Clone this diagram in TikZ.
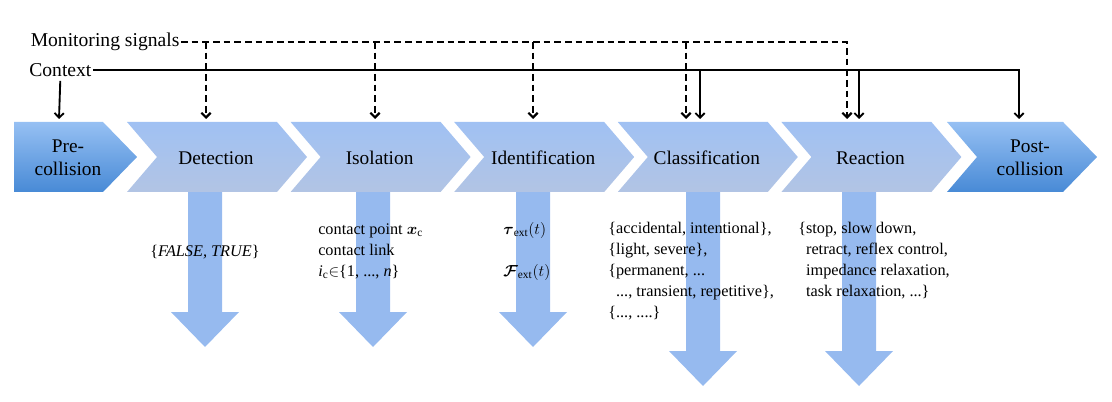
\documentclass[tikz,border=0pt]{standalone}
\usepackage{amsmath}
\usepackage{amssymb}
\usepackage{fontspec}
\setmainfont{Liberation Serif}
\usepackage{tikz}
\usetikzlibrary{arrows.meta}

\definecolor{midtop}{RGB}{160,193,243}
\definecolor{midbot}{RGB}{178,196,228}
\definecolor{endtop}{RGB}{150,192,243}
\definecolor{endbot}{RGB}{72,138,214}
\definecolor{outblue}{RGB}{150,186,239}

\begin{document}
\begin{tikzpicture}[x=0.75pt,y=-0.75pt,>={Straight Barb[length=3.5pt,width=7pt]}]
			\tikzstyle{mid phase}=[top color=midtop, bottom color=midbot]
			\tikzstyle{end phase}=[top color=endtop, bottom color=endbot]
			\tikzstyle{phase label}=[font=\fontsize{14.5}{17.3}\selectfont, align=center, inner sep=0pt]
			\tikzstyle{signal label}=[font=\fontsize{14.7}{17.6}\selectfont, inner sep=1pt]
			\tikzstyle{outcome}=[fill=outblue]
			\tikzstyle{outcome text}=[font=\fontsize{12.2}{15.75}\selectfont, align=left, inner sep=0pt, anchor=north west]
			\tikzstyle{monitor}=[line width=1.6pt, dash pattern=on 5pt off 3pt]
			\tikzstyle{context}=[line width=1.4pt]
			
			\useasboundingbox (0,0) rectangle (1112,402);
			
			% Draw the pre- and post-collision phases
			\path[end phase] (14,122) -- (103,122) -- (137,157) -- (103,192) -- (14,192) -- cycle;
			\node[phase label] (pre) at (68,158) {Pre-\\collision};
			\path[end phase] (947,122) -- (1063,122) -- (1097,157) -- (1063,192) -- (947,192) -- (977,157) -- cycle;
			\node[phase label] (post) at (1030,158) {Post-\\collision};
			
			% Draw the down arrows below the phases
			\foreach \x / \tip in {205/347, 373/347, 533/347, 703/386, 859/386}
			\path[outcome] (\x-17,192) -- (\x+17,192) -- (\x+17,\tip-35) -- (\x+34,\tip-35)
				-- (\x,\tip) -- (\x-34,\tip-35) -- (\x-17,\tip-35) -- cycle;
			
			% Draw the phases of the collision pipeline
			\foreach \name / \x / \lbl in {det/127/Detection, iso/290.6/Isolation, idf/454.2/Identification, cls/617.8/Classification, rea/781.4/Reaction}
			{
				\path[mid phase] (\x,122) -- ++(150,0) -- ++(30,35) -- ++(-30,35) -- ++(-150,0) -- ++(30,-35) -- cycle;
				\node[phase label, anchor=base] (\name) at (\x+89,165) {\lbl};
			}
			
			% Signals on top
			\node[signal label, anchor=east] (mon) at (181,42) {Monitoring signals};
			\node[signal label, anchor=east] (ctx) at (93,70) {Context};
			
			% Arrow targets on top of the phases
			\coordinate (pre-ctx) at (59,119);
			\foreach \name / \x in {det/206, iso/375, idf/533, cls/686, rea/847}
			\coordinate (\name-mon) at (\x,119);
			\foreach \name / \x in {cls/700, rea/859, post/1019}
			\coordinate (\name-ctx) at (\x,119);
			
			% Monitoring signals to the phases
			\draw[monitor,->] (mon.east) -- (mon.east -| rea-mon) -- (rea-mon);
			\foreach \name in {det,iso,idf,cls}
			\draw[monitor,->] (mon.east -| \name-mon) -- (\name-mon);
			
			% Context to the phases
			\draw[context,->] (ctx.east) -- (ctx.east -| post-ctx) -- (post-ctx);
			\draw[context,line width=2pt] (ctx.east -| rea-ctx) -- (ctx.east -| post-ctx);
			\foreach \name in {cls,rea}
			\draw[context,->] (ctx.east -| \name-ctx) -- (\name-ctx);
			\draw[context,->,shorten <=2pt] (ctx.south) -- (pre-ctx);
			
			% Annotate the outcomes
			\node[outcome text, anchor=base] (det-out) at (205,257) {\{\textit{FALSE, TRUE}\}};
			\node[outcome text] (iso-out) at (318,223) {contact point $\boldsymbol{x}_{\mathrm{c}}$\\contact link\\\textit{i}\textsubscript{c}$\in$\{1, ..., \textit{n}\}};
			\node[outcome text] (idf-out) at (503,222) {$\boldsymbol{\tau}_{\mathrm{ext}}(t)$\\[15.75pt]$\boldsymbol{\mathcal{F}}_{\mathrm{ext}}(t)$};
			\node[outcome text] (cls-out) at (608,222) {\{accidental, intentional\},\\\{light, severe\},\\\{permanent, ...\\\phantom{\{}..., transient, repetitive\},\\\{..., ....\}};
			\node[outcome text] (rea-out) at (798,222) {\{stop, slow down,\\\phantom{\{}retract, reflex control,\\\phantom{\{}impedance relaxation,\\\phantom{\{}task relaxation, ...\}};
		\end{tikzpicture}
\end{document}
